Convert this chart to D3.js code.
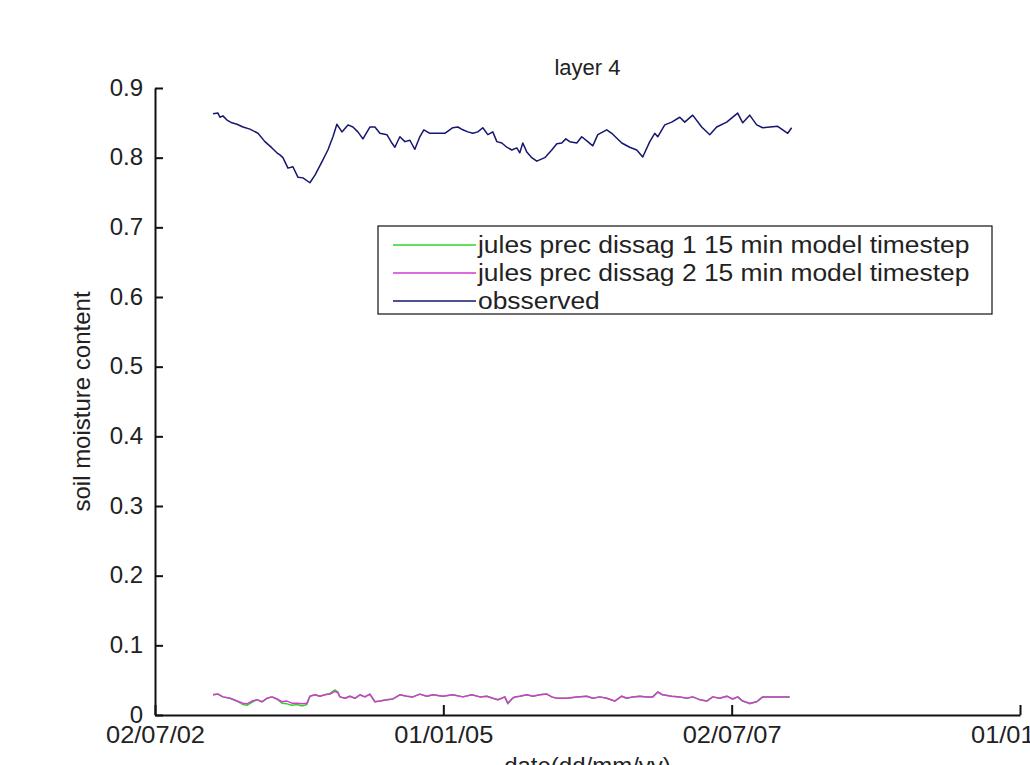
<!DOCTYPE html>
<html>
<head>
<meta charset="utf-8">
<script src="https://cdn.jsdelivr.net/npm/d3@7"></script>
<style>
  html, body { margin: 0; padding: 0; background: #ffffff; }
  svg { display: block; }
  text { font-family: "Liberation Sans", Arial, sans-serif; fill: #222; }
</style>
</head>
<body>
<svg id="chart" width="1030" height="765"></svg>
<script>
// ---------------- data (x in decimal years, y = soil moisture content) ----------------
const obsYears = [2003.003,2003.046,2003.063,2003.089,2003.124,2003.167,2003.211,2003.263,2003.323,2003.393,
  2003.453,2003.514,2003.557,2003.583,2003.609,2003.653,2003.696,2003.739,2003.783,2003.843,
  2003.887,2003.947,2003.999,2004.043,2004.077,2004.121,2004.173,2004.216,2004.259,2004.303,
  2004.363,2004.407,2004.450,2004.511,2004.554,2004.580,2004.623,2004.667,2004.710,2004.753,
  2004.796,2004.831,2004.883,2005.013,2005.082,2005.126,2005.169,2005.212,2005.256,2005.299,
  2005.342,2005.386,2005.429,2005.464,2005.507,2005.550,2005.594,2005.637,2005.663,2005.689,
  2005.724,2005.767,2005.810,2005.880,2005.940,2005.984,2006.027,2006.062,2006.096,2006.157,
  2006.200,2006.252,2006.296,2006.339,2006.417,2006.460,2006.547,2006.616,2006.677,2006.729,
  2006.790,2006.833,2006.859,2006.920,2006.980,2007.050,2007.093,2007.162,2007.240,2007.310,
  2007.370,2007.457,2007.552,2007.596,2007.656,2007.717,2007.769,2007.899,2007.986,2008.020];
const obsValues = [0.863,0.864,0.858,0.860,0.854,0.850,0.848,0.844,0.841,0.835,
  0.823,0.814,0.807,0.804,0.800,0.785,0.787,0.772,0.771,0.764,
  0.775,0.794,0.811,0.830,0.848,0.837,0.847,0.844,0.837,0.827,
  0.844,0.844,0.835,0.833,0.821,0.815,0.830,0.823,0.825,0.812,
  0.830,0.840,0.835,0.835,0.843,0.844,0.840,0.837,0.835,0.837,
  0.843,0.833,0.837,0.823,0.821,0.815,0.811,0.814,0.807,0.821,
  0.808,0.800,0.795,0.800,0.811,0.820,0.821,0.827,0.823,0.821,
  0.830,0.823,0.817,0.833,0.840,0.835,0.821,0.815,0.811,0.801,
  0.823,0.835,0.830,0.847,0.851,0.858,0.851,0.861,0.844,0.833,
  0.844,0.851,0.864,0.850,0.861,0.847,0.843,0.845,0.835,0.843];

const modelYears = [2003.003,2003.046,2003.089,2003.150,2003.211,2003.263,2003.297,2003.341,2003.384,2003.427,
  2003.471,2003.514,2003.557,2003.601,2003.644,2003.687,2003.731,2003.774,2003.817,2003.843,
  2003.887,2003.930,2003.973,2004.017,2004.060,2004.086,2004.103,2004.147,2004.190,2004.233,
  2004.277,2004.320,2004.363,2004.407,2004.450,2004.511,2004.563,2004.623,2004.684,2004.736,
  2004.796,2004.857,2004.909,2004.996,2005.082,2005.169,2005.247,2005.317,2005.377,2005.429,
  2005.473,2005.490,2005.533,2005.559,2005.594,2005.620,2005.663,2005.724,2005.776,2005.836,
  2005.897,2005.940,2005.984,2006.070,2006.157,2006.244,2006.296,2006.356,2006.417,2006.486,
  2006.547,2006.590,2006.642,2006.703,2006.764,2006.816,2006.859,2006.902,2006.980,2007.050,
  2007.110,2007.162,2007.223,2007.284,2007.336,2007.396,2007.457,2007.509,2007.552,2007.596,
  2007.656,2007.717,2007.769,2007.856,2008.003];
const dissag1Values = [0.029,0.030,0.026,0.024,0.020,0.015,0.014,0.018,0.022,0.019,
  0.024,0.026,0.023,0.017,0.016,0.014,0.015,0.013,0.015,0.027,
  0.029,0.027,0.029,0.031,0.036,0.033,0.026,0.024,0.027,0.024,
  0.029,0.026,0.030,0.019,0.020,0.022,0.023,0.029,0.027,0.026,
  0.030,0.027,0.029,0.027,0.029,0.026,0.029,0.026,0.027,0.024,
  0.022,0.023,0.026,0.016,0.023,0.026,0.027,0.029,0.027,0.029,
  0.030,0.026,0.024,0.024,0.026,0.027,0.024,0.026,0.024,0.020,
  0.027,0.024,0.026,0.027,0.026,0.026,0.033,0.029,0.027,0.026,
  0.024,0.026,0.022,0.020,0.026,0.024,0.027,0.023,0.026,0.020,
  0.016,0.019,0.026,0.026,0.026];
const dissag2Values = [0.029,0.030,0.026,0.024,0.020,0.017,0.016,0.020,0.022,0.019,
  0.024,0.026,0.023,0.019,0.020,0.017,0.017,0.016,0.017,0.027,
  0.029,0.027,0.029,0.030,0.034,0.032,0.026,0.024,0.027,0.024,
  0.029,0.026,0.030,0.019,0.020,0.022,0.023,0.029,0.027,0.026,
  0.030,0.027,0.029,0.027,0.029,0.026,0.029,0.026,0.027,0.024,
  0.022,0.023,0.026,0.017,0.023,0.026,0.027,0.029,0.027,0.029,
  0.030,0.026,0.024,0.024,0.026,0.027,0.024,0.026,0.024,0.020,
  0.027,0.024,0.026,0.027,0.026,0.026,0.033,0.029,0.027,0.026,
  0.024,0.026,0.022,0.020,0.026,0.024,0.027,0.023,0.026,0.020,
  0.017,0.019,0.026,0.026,0.026];

const seriesNames = ["jules prec dissag 1 15 min model timestep",
                     "jules prec dissag 2 15 min model timestep",
                     "obsserved"];
const xTickValues = [2002.5, 2005, 2007.5, 2010];
const xTickLabels = ["02/07/02", "01/01/05", "02/07/07", "01/01/10"];
const yTickValues = [0, 0.1, 0.2, 0.3, 0.4, 0.5, 0.6, 0.7, 0.8, 0.9];
const yTickLabels = ["0", "0.1", "0.2", "0.3", "0.4", "0.5", "0.6", "0.7", "0.8", "0.9"];
const titleText = "layer 4";
const xLabelText = "date(dd/mm/yy)";
const yLabelText = "soil moisture content";

// ---------------- layout ----------------
const colors = ["#2fd52f", "#d23ad2", "#16166e"];
const plotLeft = 155, plotRight = 1020, plotTop = 88, plotBottom = 715;
const fontSize = 24;
const fontFamily = "'Liberation Sans', Arial, sans-serif";
const textColor = "#262626";

const svg = d3.select("#chart");
svg.append("rect").attr("width", 1030).attr("height", 765).attr("fill", "#fff");

const x = d3.scaleLinear().domain([2002.5, 2010]).range([plotLeft, plotRight]);
const y = d3.scaleLinear().domain([0, 0.9]).range([plotBottom, plotTop]);

// axes
const xAxis = d3.axisBottom(x).tickValues(xTickValues)
  .tickFormat((d, i) => xTickLabels[i]).tickSizeInner(-10).tickSizeOuter(0).tickPadding(11);
const yAxis = d3.axisLeft(y).tickValues(yTickValues)
  .tickFormat((d, i) => yTickLabels[i]).tickSizeInner(-8).tickSizeOuter(0).tickPadding(12);

const gx = svg.append("g").attr("transform", `translate(0,${plotBottom})`).call(xAxis);
const gy = svg.append("g").attr("transform", `translate(${plotLeft},0)`).call(yAxis);
[gx, gy].forEach(g => {
  g.select(".domain").attr("stroke", "#111").attr("stroke-width", 2);
  g.selectAll(".tick line").attr("stroke", "#111").attr("stroke-width", 2);
  g.selectAll(".tick text").attr("font-size", fontSize)
    .attr("font-family", fontFamily).attr("fill", textColor);
});
gy.selectAll(".tick text").attr("dy", "0.3em");
gx.selectAll(".tick text").attr("dy", "0.72em")
  .attr("transform", "scale(1.06,1)");

// lines
const line = d3.line().x(d => x(d[0])).y(d => y(d[1]));
const s1 = modelYears.map((t, i) => [t, dissag1Values[i]]);
const s2 = modelYears.map((t, i) => [t, dissag2Values[i]]);
const s3 = obsYears.map((t, i) => [t, obsValues[i]]);
[s1, s2, s3].forEach((s, i) => {
  svg.append("path").datum(s).attr("d", line)
    .attr("fill", "none").attr("stroke", colors[i]).attr("stroke-width", 1.5)
    .attr("stroke-linejoin", "round");
});

// title & labels
svg.append("text").attr("x", (plotLeft + plotRight) / 2).attr("y", 75)
  .attr("text-anchor", "middle").attr("font-size", 22).attr("fill", textColor).text(titleText);
svg.append("text").attr("x", (plotLeft + plotRight) / 2).attr("y", 774)
  .attr("text-anchor", "middle").attr("font-size", fontSize).attr("fill", textColor).text(xLabelText);
svg.append("text").attr("transform", `translate(90,${(plotTop + plotBottom) / 2}) rotate(-90)`)
  .attr("text-anchor", "middle").attr("font-size", fontSize).attr("fill", textColor).text(yLabelText);

// legend
const lg = svg.append("g").attr("transform", "translate(378,226)");
lg.append("rect").attr("width", 614).attr("height", 88)
  .attr("fill", "#fff").attr("stroke", "#111").attr("stroke-width", 1.2);
seriesNames.forEach((name, i) => {
  const cy = 19 + i * 28;
  lg.append("line").attr("x1", 15).attr("x2", 98).attr("y1", cy).attr("y2", cy)
    .attr("stroke", colors[i]).attr("stroke-width", 1.5);
  lg.append("text").attr("x", 100).attr("y", cy).attr("dy", "0.34em")
    .attr("font-size", fontSize).attr("fill", textColor)
    .attr("transform", `translate(100,0) scale(1.1,1) translate(-100,0)`)
    .text(name);
});
</script>
</body>
</html>
